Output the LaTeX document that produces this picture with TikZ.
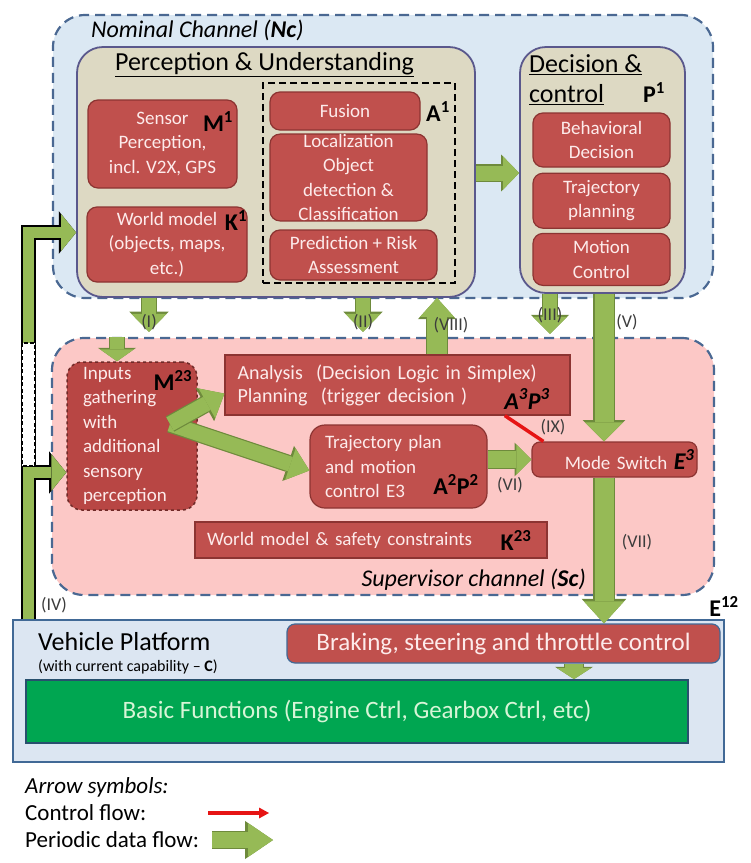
\documentclass[tikz,border=0pt]{standalone}
\usepackage{fontspec}
\setmainfont{Carlito}
\usetikzlibrary{positioning,arrows.meta,calc}

\definecolor{nomfill}{RGB}{219,232,243}
\definecolor{supfill}{RGB}{252,200,198}
\definecolor{chanedge}{RGB}{74,104,146}
\definecolor{tanfill}{RGB}{221,217,195}
\definecolor{tanedge}{RGB}{90,88,140}
\definecolor{boxred}{RGB}{192,80,77}
\definecolor{boxredge}{RGB}{140,52,50}
\definecolor{boxtext}{RGB}{253,235,235}
\definecolor{inputred}{RGB}{184,70,68}
\definecolor{flowgreen}{RGB}{150,186,86}
\definecolor{flowedge}{RGB}{110,138,60}
\definecolor{vehfill}{RGB}{220,230,242}
\definecolor{vehedge}{RGB}{65,105,150}
\definecolor{basicgreen}{RGB}{0,166,81}
\definecolor{basicedge}{RGB}{40,80,110}
\definecolor{basictext}{RGB}{215,245,215}
\definecolor{ctrlred}{RGB}{230,20,20}
\definecolor{tagtext}{RGB}{60,60,60}

\begin{document}
\begin{tikzpicture}[x=1pt, y=-1pt,
  chan/.style={draw=chanedge, line width=2.2pt, dash pattern=on 10pt off 6pt, rounded corners=32pt, inner sep=0pt},
  chan label/.style={font=\fontsize{24}{28}\selectfont\itshape, inner sep=0pt},
  group box/.style={draw=tanedge, fill=tanfill, line width=1.8pt, rounded corners=26pt, inner sep=0pt},
  title/.style={font=\fontsize{26}{30}\selectfont, inner sep=0pt},
  red box/.style={draw=boxredge, fill=boxred, line width=1.2pt, rounded corners=10pt, text=boxtext, align=center, font=\fontsize{19}{24.5}\selectfont, inner sep=0pt},
  flat box/.style={red box, rounded corners=0pt},
  id node/.style={font=\fontsize{24}{28}\selectfont\bfseries, inner sep=0pt},
  tag/.style={font=\fontsize{18}{20}\selectfont, text=tagtext, inner sep=0pt},
  flow/.style n args={3}{draw=flowgreen, line width=#1pt, -{Triangle[width=#2pt,length=#3pt,line width=0pt]},
    preaction={draw=flowedge, line width=#1pt+2.4pt, -{Triangle[width=#2pt,length=#3pt,line width=0pt,scale=1.12]}}},
  side flow/.style={draw=flowgreen, line width=11pt, -{Triangle[width=37pt,length=15pt,line width=0pt]},
    preaction={draw=black, line width=15pt, -{Triangle[width=37pt,length=15pt,line width=0pt,scale=1.15]}}},
  ctrl/.style={draw=ctrlred, line width=3.5pt}
]

  \useasboundingbox (0,0) rectangle (751,863);

  % Define channels
  \node[chan, fill=nomfill, minimum width=660pt, minimum height=283pt] (nc) at (383,156.5) {};
  \node[chan, fill=supfill, minimum width=662pt, minimum height=257pt] (sc) at (383,466.5) {};
  \node[chan label, anchor=west] (nctext) at (91,30) {Nominal Channel (\textbf{Nc})};
  \node[chan label, anchor=east] (sctext) at (586,580) {Supervisor channel (\textbf{Sc})};

  % Perception & Understanding
  \node[group box, minimum width=398pt, minimum height=250pt] (pu) at (276,172) {};
  \node[title] (putitle) at (264.5,65) {\underline{Perception \& Understanding}};
  \node[draw, line width=1.8pt, dash pattern=on 7pt off 4pt, minimum width=192pt, minimum height=200pt, inner sep=0pt] (abox) at (359,183) {};
  \node[red box, minimum width=149pt, minimum height=88pt] (sensor) at (162.5,144) {Sensor\\Perception,\\incl. V2X, GPS};
  \node[id node] (m1) at (218,122) {M\textsuperscript{1}};
  \node[red box, minimum width=160pt, minimum height=75pt] (world) at (167,244.5) {World model\\(objects, maps,\\etc.)};
  \node[id node] (k1) at (236,221) {K\textsuperscript{1}};
  \node[red box, minimum width=150pt, minimum height=38pt] (fusion) at (345,111) {Fusion};
  \node[id node] (a1) at (438,112) {A\textsuperscript{1}};
  \node[red box, minimum width=157pt, minimum height=85pt] (local) at (348.5,177.5) {Localization\\Object\\detection \&\\Classification};
  \node[red box, minimum width=167pt, minimum height=50pt] (pred) at (353.5,255) {Prediction + Risk\\Assessment};

  % Decision & control
  \node[group box, minimum width=165pt, minimum height=246pt] (dec) at (602.5,170) {};
  \node[title, anchor=west, align=left] (dectitle) at (529,80) {\underline{Decision \&}\\\underline{control}};
  \node[id node] (p1) at (654,93) {P\textsuperscript{1}};
  \node[red box, minimum width=137pt, minimum height=54pt] (behav) at (601.5,140) {Behavioral\\Decision};
  \node[red box, minimum width=137pt, minimum height=55pt, below=5pt of behav] (trajp) {Trajectory\\planning};
  \node[red box, minimum width=137pt, minimum height=52pt, below=4pt of trajp] (motion) {Motion\\Control};

  % Supervisor channel
  \node[red box, fill=inputred, draw=boxredge!80!black, dashed, line width=1.5pt, rounded corners=15pt, minimum width=130pt, minimum height=148pt, align=left, text width=98pt] (inputs) at (132,436) {Inputs\\gathering\\with\\additional\\sensory\\perception};
  \node[id node] (m23) at (173,380) {M\textsuperscript{23}};
  \node[flat box, minimum width=345pt, minimum height=60pt, align=left, text width=320pt, font=\fontsize{20}{23}\selectfont] (ana) at (397.5,385) {Analysis~~(Decision Logic in Simplex)\\Planning~~(trigger decision~)};
  \node[id node] (a3p3) at (527,399) {\textit{A\textsuperscript{3}P\textsuperscript{3}}};
  \node[red box, rounded corners=15pt, minimum width=177pt, minimum height=83pt, align=left, text width=147pt] (tp) at (398.5,466.5) {Trajectory plan\\and motion\\control E3};
  \node[id node] (a2p2) at (456,484) {A\textsuperscript{2}P\textsuperscript{2}};
  \node[red box, rounded corners=8pt, minimum width=165pt, minimum height=35pt, align=right, text width=160pt] (mode) at (614.5,459.5) {Mode Switch \textcolor{black}{\fontsize{24}{26}\selectfont\textbf{\textit{E\textsuperscript{3}}}}};
  \node[flat box, minimum width=352pt, minimum height=36pt, align=left, text width=328pt] (wm) at (371,540) {World model \& safety constraints};
  \node[id node] (k23) at (516,540) {K\textsuperscript{23}};

  % Vehicle platform
  \node[draw=vehedge, fill=vehfill, line width=1.8pt, minimum width=711pt, minimum height=142pt, inner sep=0pt] (veh) at (368.5,691) {};
  \node[anchor=west, inner sep=0pt, font=\fontsize{26}{30}\selectfont] (vehtitle) at (38,642) {Vehicle Platform};
  \node[anchor=west, inner sep=0pt, font=\fontsize{16}{18}\selectfont] (vehsub) at (38,667) {(with current capability -- \textbf{C})};
  \node[red box, draw=vehedge, rounded corners=8pt, minimum width=433pt, minimum height=39pt, font=\fontsize{25}{28}\selectfont] (brake) at (503.5,643.5) {Braking, steering and throttle control};
  \node[draw=basicedge, fill=basicgreen, line width=1.8pt, minimum width=662pt, minimum height=63pt, inner sep=0pt, text=basictext, font=\fontsize{25}{28}\selectfont] (basic) at (357,711.5) {Basic Functions (Engine Ctrl, Gearbox Ctrl, etc)};
  \node[id node] (e12) at (724,606) {E\textsuperscript{12}};

  % Arrow columns
  \coordinate (col0) at (117,0);
  \coordinate (col1) at (149,0);
  \coordinate (col2) at (363,0);
  \coordinate (col8) at (437,0);
  \coordinate (col3) at (550,0);
  \coordinate (colv) at (604,0);
  \coordinate (colb) at (574,0);
  \coordinate (colL) at (28.5,0);
  \coordinate (fork) at (170,424);
  \coordinate (k in) at (pu.west |- 0,232.5);
  \coordinate (m in) at (inputs.west |- 0,472.5);

  % Define edges
  \draw[side flow] (veh.north -| colL) |- (k in);
  \draw[side flow] (veh.north -| colL) |- (m in);
  \filldraw[fill=white, draw=black, line width=1.4pt, dash pattern=on 4pt off 2.5pt] (22,343) rectangle (35,466);
  \draw[flow={14}{35}{18}, shorten >=5pt] (pu.south -| col1) -- (sc.north -| col1);
  \draw[flow={14}{34}{12}] (sc.north -| col0) -- (inputs.north -| col0);
  \draw[flow={14}{35}{18}, shorten >=5pt] (pu.south -| col2) -- (sc.north -| col2);
  \draw[flow={20}{34}{19}] (ana.north -| col8) -- (pu.south -| col8);
  \draw[flow={14}{34}{17}, shorten >=3pt] (dec.south -| col3) -- (sc.north -| col3);
  \draw[flow={19}{38}{19}] (dec.south -| colv) -- (mode.north -| colv);
  \draw[flow={19}{40}{22}] (mode.south -| colv) -- (brake.north -| colv);
  \draw[flow={17}{30}{15}] (tp.east |- mode.west) -- (mode.west);
  \draw[flow={18}{34}{11}] (brake.south -| colb) -- (basic.north -| colb);
  \draw[flow={15}{33}{20}] (fork) -- ($(tp.west)+(0,4)$);
  \draw[flow={15}{34}{20}] (fork) -- ($(ana.south west)+(0,-22)$);
  \draw[flow={15}{33}{16}] ($(pu.east)+(0,1)$) -- (dec.west |- 0,173);
  \draw[ctrl] ($(ana.south west)!0.81!(ana.south east)$) -- ($(mode.north west)+(12,0)$);

  % Arrow tags
  \node[tag] (t1) at (149,322) {(I)};
  \node[tag] (t2) at (363,322) {(II)};
  \node[tag] (t3) at (550,315) {(III)};
  \node[tag] (t4) at (54,605) {(IV)};
  \node[tag] (t5) at (627,322) {(V)};
  \node[tag] (t6) at (510,485) {(VI)};
  \node[tag] (t7) at (637,542) {(VII)};
  \node[tag] (t8) at (451,325) {(VIII)};
  \node[tag] (t9) at (553,427) {(IX)};

  % Legend
  \node[anchor=west, inner sep=0pt, font=\fontsize{23}{26}\selectfont\itshape] (legtitle) at (25,787) {Arrow symbols:};
  \node[anchor=west, inner sep=0pt, font=\fontsize{23}{26}\selectfont] (legctrl) at (25,813) {Control flow:};
  \node[anchor=west, inner sep=0pt, font=\fontsize{23}{26}\selectfont] (legdata) at (25,840) {Periodic data flow:};
  \coordinate (ctrl a) at (208,813);
  \coordinate (ctrl b) at (269,813);
  \coordinate (data a) at (212,840);
  \coordinate (data b) at (273,840);
  \draw[ctrl, -{Triangle[width=11pt,length=10pt,line width=0pt]}] (ctrl a) -- (ctrl b);
  \draw[flow={16}{34}{25}] (data a) -- (data b);

\end{tikzpicture}
\end{document}
